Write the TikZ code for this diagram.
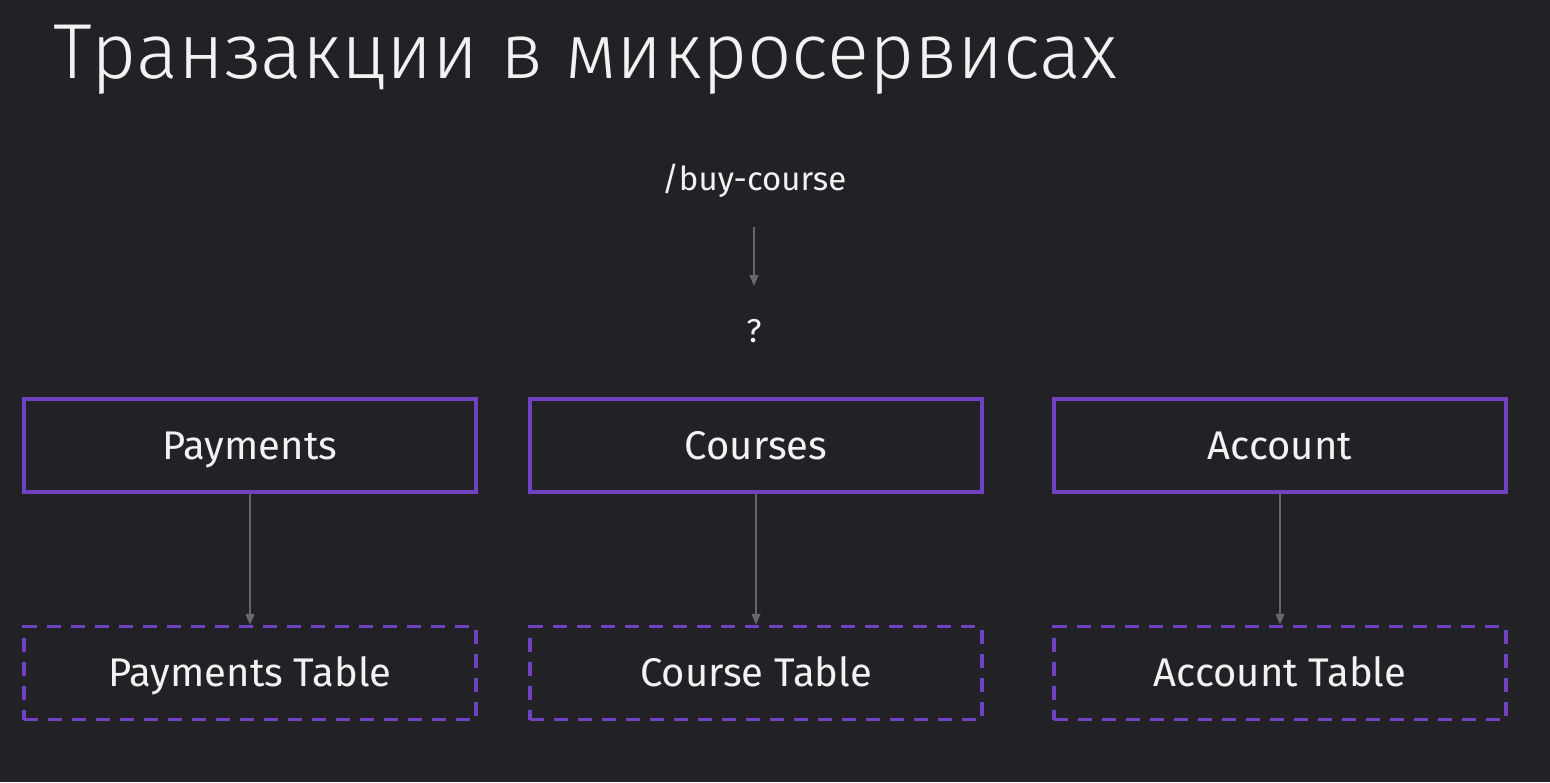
\documentclass[tikz,border=0pt]{standalone}
\usepackage{fontspec}
\setmainfont{Fira Sans}
\newfontfamily\titlefont{Fira Sans Light}
\usetikzlibrary{arrows.meta}
\definecolor{bg}{HTML}{222126}
\definecolor{lilac}{HTML}{6E42C1}
\definecolor{wire}{HTML}{68676C}
\definecolor{ink}{HTML}{F2F2F2}
\tikzset{
  service/.style={draw=lilac, line width=3.5pt, minimum width=452pt, minimum height=93pt,
    text=ink, font=\fontsize{40}{46}\selectfont, text height=27.5pt, text depth=0pt},
  store/.style={service, dash pattern=on 14pt off 10pt},
  label/.style={text=ink, font=\fontsize{33}{38}\selectfont},
  link/.style={draw=wire, line width=1.3pt, -{Triangle[length=11pt,width=9pt]}}
}
\begin{document}
\begin{tikzpicture}[x=1pt,y=-1pt]
  \fill[bg] (0,0) rectangle (1550,782);
  \useasboundingbox (0,0) rectangle (1550,782);
  \node[anchor=base west, text=ink, inner sep=0pt, font=\titlefont\fontsize{78}{88}\selectfont]
    (title) at (53,78) {Транзакции в микросервисах};
  \node[label] (route) at (754,181) {/buy-course};
  \node[label] (what) at (754,331) {?};
  \coordinate (rtop) at (754,227);
  \coordinate (rbot) at (754,286);
  \node[service] (pay) at (250,445.5) {Payments};
  \node[service] (crs) at (756,445.5) {Courses};
  \node[service] (acc) at (1280,445.5) {Account};
  \node[store] (paytab) at (250,673) {Payments Table};
  \node[store] (crstab) at (756,673) {Course Table};
  \node[store] (acctab) at (1280,673) {Account Table};
  \begin{scope}[link]
    \draw (rtop) to (rbot);
    \draw (pay) to (paytab);
    \draw (crs) to (crstab);
    \draw (acc) to (acctab);
  \end{scope}
\end{tikzpicture}
\end{document}
